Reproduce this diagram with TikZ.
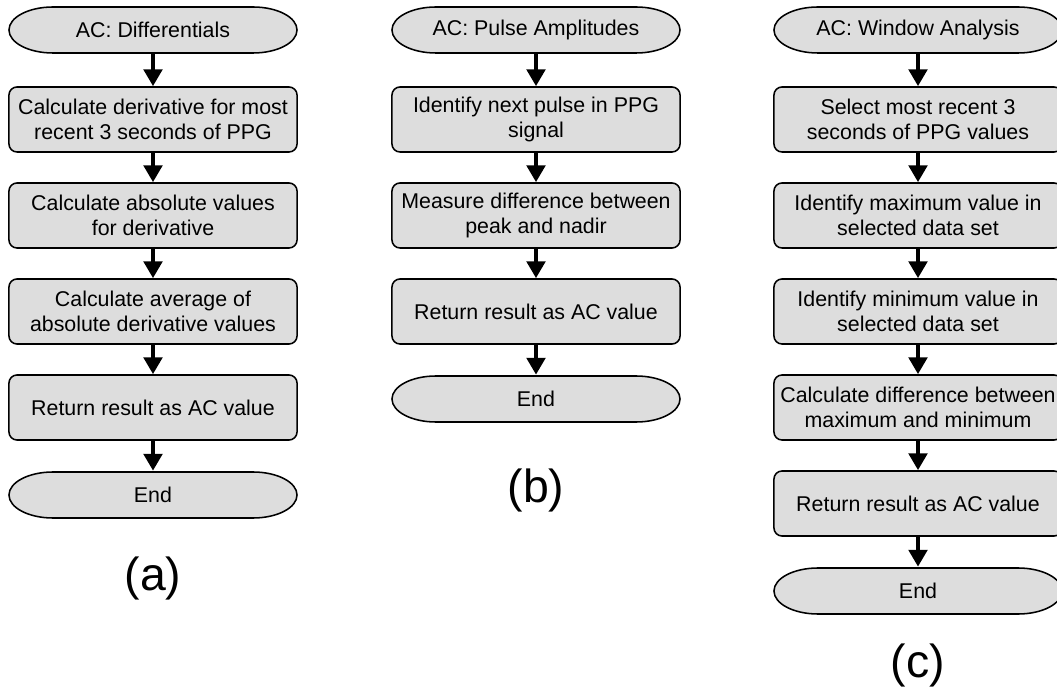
\documentclass[tikz,border=0pt]{standalone}
\usepackage{fontspec}
\setmainfont{Liberation Sans}
\usepackage{tikz}
\usetikzlibrary{arrows.meta, positioning, calc}

\definecolor{boxgray}{RGB}{221,221,221}

\tikzset{
  procbox/.style={draw=black, line width=1.1pt, fill=boxgray, rounded corners=0.2cm,
    minimum width=7.2cm, minimum height=1.625cm, inner sep=0pt, align=center,
    font=\fontsize{15.2}{17.8}\selectfont},
  termbox/.style={minimum width=7.25cm, minimum height=1.2cm, inner sep=0pt, align=center,
    font=\fontsize{15.2}{17.8}\selectfont,
    path picture={
      \draw[line width=1.1pt, fill=boxgray]
        ([xshift=-2.5cm, yshift=0.575cm]path picture bounding box.center) -- ++(5cm,0pt)
        arc[start angle=90, end angle=-90, x radius=1.1cm, y radius=0.575cm] -- ++(-5cm,0pt)
        arc[start angle=270, end angle=90, x radius=1.1cm, y radius=0.575cm] -- cycle;
    }},
  flowarrow/.style={line width=3.5pt, -{Triangle[width=13pt, length=12pt]}},
  sublabel/.style={font=\fontsize{33}{36}\selectfont}
}

\begin{document}
\begin{tikzpicture}[x=0.025cm, y=0.025cm]
\useasboundingbox (0,0) rectangle (1057,698);
\clip (0,0) rectangle (1057,698);
% (a) differentials
\node[termbox] (startA) at (153,668) {AC: Differentials};
\node[procbox] (a1) at (153,578.5) {Calculate derivative for most\\recent 3 seconds of PPG};
\node[procbox] (a2) at (153,482.5) {Calculate absolute values\\for derivative};
\node[procbox] (a3) at (153,386.5) {Calculate average of\\absolute derivative values};
\node[procbox] (a4) at (153,290.5) {Return result as AC value};
\node[termbox] (endA) at (153,203) {End};
\node[sublabel] (labA) at (153,120) {(a)};
\draw[flowarrow] (startA) -- (a1);
\draw[flowarrow] (a1) -- (a2);
\draw[flowarrow] (a2) -- (a3);
\draw[flowarrow] (a3) -- (a4);
\draw[flowarrow] (a4) -- (endA);
% (b) pulse amplitudes
\node[termbox] (startB) at (536,668) {AC: Pulse Amplitudes};
\node[procbox] (b1) at (536,578.5) {Identify next pulse in PPG\\signal};
\node[procbox] (b2) at (536,482.5) {Measure difference between\\peak and nadir};
\node[procbox] (b3) at (536,386.5) {Return result as AC value};
\node[termbox] (endB) at (536,299) {End};
\node[sublabel] (labB) at (536,208) {(b)};
\draw[flowarrow] (startB) -- (b1);
\draw[flowarrow] (b1) -- (b2);
\draw[flowarrow] (b2) -- (b3);
\draw[flowarrow] (b3) -- (endB);
% (c) window analysis
\node[termbox] (startC) at (918,668) {AC: Window Analysis};
\node[procbox] (c1) at (918,578.5) {Select most recent 3\\seconds of PPG values};
\node[procbox] (c2) at (918,482.5) {Identify maximum value in\\selected data set};
\node[procbox] (c3) at (918,386.5) {Identify minimum value in\\selected data set};
\node[procbox] (c4) at (918,290.5) {Calculate difference between\\maximum and minimum};
\node[procbox] (c5) at (918,194.5) {Return result as AC value};
\node[termbox] (endC) at (918,107) {End};
\node[sublabel] (labC) at (918,33) {(c)};
\draw[flowarrow] (startC) -- (c1);
\draw[flowarrow] (c1) -- (c2);
\draw[flowarrow] (c2) -- (c3);
\draw[flowarrow] (c3) -- (c4);
\draw[flowarrow] (c4) -- (c5);
\draw[flowarrow] (c5) -- (endC);
\end{tikzpicture}
\end{document}
